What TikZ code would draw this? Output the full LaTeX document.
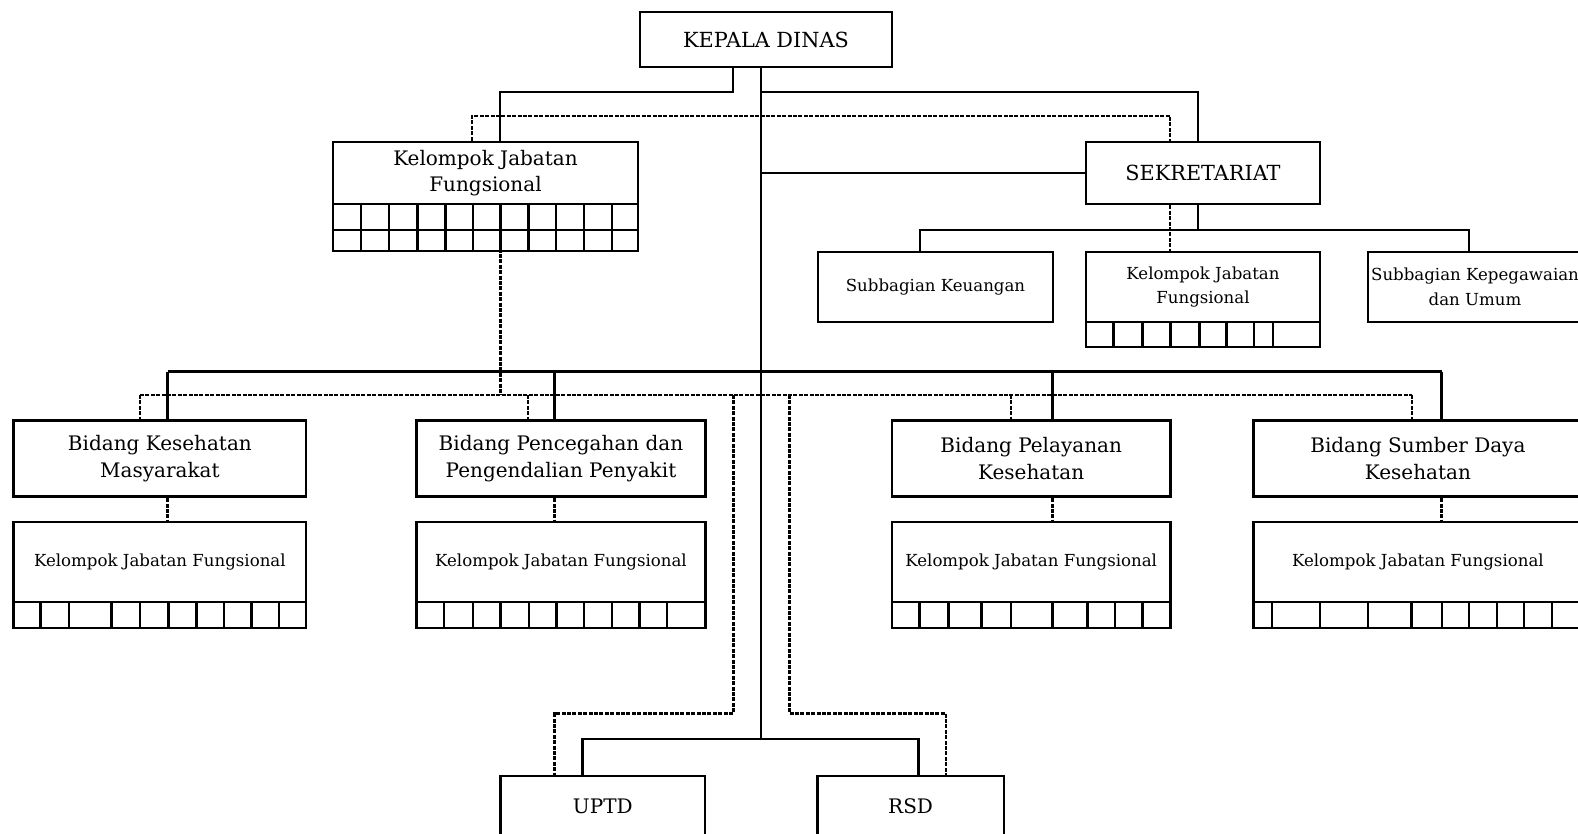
\documentclass[tikz,border=0pt]{standalone}
\usepackage{fontspec}
\setmainfont{DejaVu Serif}

\tikzset{
  unitbox/.style={draw, line width=1.4pt, inner sep=0pt, align=center, font=\fontsize{10}{13.3}\selectfont},
  headbox/.style={unitbox, font=\fontsize{10.4}{13.3}\selectfont},
  smallbox/.style={unitbox, font=\fontsize{8.3}{12.2}\selectfont},
  dotline/.style={line width=1.2pt, dash pattern=on 2pt off 0.7pt}
}

\begin{document}
\begin{tikzpicture}[x=0.5pt, y=-0.5pt, line width=1.4pt]

\useasboundingbox (0, 0) rectangle (1578, 834);
\clip (0, 0) rectangle (1578, 834);

\draw (766, 39.5) node[headbox, minimum width=126pt, minimum height=27.5pt] (kd) {KEPALA DINAS};

\draw (485.5, 173) node[unitbox, minimum width=152.5pt, minimum height=31pt] (kjf0) {Kelompok Jabatan\\Fungsional};

\draw (1203, 173) node[headbox, minimum width=117pt, minimum height=31pt] (sek) {SEKRETARIAT};

\draw (935.5, 287) node[smallbox, minimum width=117.5pt, minimum height=35pt] (sk) {Subbagian Keuangan};

\draw (1203, 287) node[smallbox, minimum width=117pt, minimum height=35pt] (kjfs) {Kelompok Jabatan\\Fungsional};

\draw (1475, 287) node[smallbox, minimum width=107pt, minimum height=35pt] (skp) {Subbagian Kepegawaian\\dan Umum};

\draw (159.9, 458.7) node[unitbox, minimum width=146.1pt, minimum height=38pt] (bkm) {Bidang Kesehatan\\Masyarakat};

\draw (561, 458.7) node[unitbox, minimum width=144.65pt, minimum height=38pt] (bppp) {Bidang Pencegahan dan\\Pengendalian Penyakit};

\draw (1031.2, 458.7) node[unitbox, minimum width=139.2pt, minimum height=38pt] (bpk) {Bidang Pelayanan\\Kesehatan};

\draw (1417.9, 458.7) node[unitbox, minimum width=164.1pt, minimum height=38pt] (bsdk) {Bidang Sumber Daya\\Kesehatan};

\draw (159.9, 562) node[smallbox, minimum width=146.1pt, minimum height=40pt] (k1) {Kelompok Jabatan Fungsional};

\draw (561, 562) node[smallbox, minimum width=144.65pt, minimum height=40pt] (k2) {Kelompok Jabatan Fungsional};

\draw (1031.2, 562) node[smallbox, minimum width=139.2pt, minimum height=40pt] (k3) {Kelompok Jabatan Fungsional};

\draw (1417.9, 562) node[smallbox, minimum width=164.1pt, minimum height=40pt] (k4) {Kelompok Jabatan Fungsional};

\draw (602.8, 806) node[unitbox, minimum width=102.2pt, minimum height=30pt] (uptd) {UPTD};

\draw (910.6, 806) node[unitbox, minimum width=93.35pt, minimum height=30pt] (rsd) {RSD};

\draw (333, 204) rectangle (638, 251);
\draw (333, 230) -- (638, 230);
\foreach \x in {361, 389, 417.6, 445.5, 473, 500.6, 528.6, 556, 584, 612}
  \draw (\x, 204) -- (\x, 251);

\draw (1086, 322) rectangle (1320, 347);
\foreach \x in {1113.6, 1142.4, 1170.6, 1199.4, 1226.7, 1254, 1272.9}
  \draw (\x, 322) -- (\x, 347);

\draw (13.8, 602) rectangle (306, 628);
\foreach \x in {40.4, 68.9, 111.6, 140, 168.5, 196.5, 224, 251.6, 279}
  \draw (\x, 602) -- (\x, 628);

\draw (416.4, 602) rectangle (705.7, 628);
\foreach \x in {444, 473, 500.5, 529, 556.5, 584, 612, 639.6, 667}
  \draw (\x, 602) -- (\x, 628);

\draw (892, 602) rectangle (1170.4, 628);
\foreach \x in {919.5, 948.4, 981.3, 1011, 1052.3, 1087.6, 1115, 1142.5}
  \draw (\x, 602) -- (\x, 628);

\draw (1253.8, 602) rectangle (1582, 628);
\foreach \x in {1272, 1320, 1368, 1411.7, 1442, 1469, 1497, 1524, 1552}
  \draw (\x, 602) -- (\x, 628);

\coordinate (tr) at (761, 739);
\coordinate (la) at (733, 92);
\coordinate (lb) at (500, 92);
\coordinate (ra) at (1198, 92);
\coordinate (da) at (472, 116);
\coordinate (db) at (1170, 116);
\coordinate (sb) at (1198, 230);
\coordinate (sbl) at (920, 230);
\coordinate (sbr) at (1469, 230);
\coordinate (dk) at (500.5, 395);

\draw (kd.south -| la) -- (la) -- (lb) -- (lb |- kjf0.north);

\draw (kd.south -| tr) -- (tr);

\draw (tr |- ra) -- (ra) -- (ra |- sek.north);

\draw[dotline] (da |- kjf0.north) -- (da) -- (db) -- (db |- sek.north);

\draw (tr |- sek.west) -- (sek.west);

\draw (sek.south -| sb) -- (sb);

\draw (sbl |- sk.north) -- (sbl) -- (sbr) -- (sbr |- skp.north);

\draw[dotline] (sek.south -| db) -- (db |- kjfs.north);

\draw[dotline] (kjf0.south -| dk) -- (dk);

\coordinate (b1) at (167.6, 371.7);
\coordinate (b2) at (554.6, 371.7);
\coordinate (b3) at (1052.3, 371.7);
\coordinate (b4) at (1441.5, 371.7);

\draw (b1) -- (b4);
\foreach \n/\m/\c in {bkm/k1/b1, bppp/k2/b2, bpk/k3/b3, bsdk/k4/b4}
{
  \draw (\c) -- (\c |- \n.north);
  \draw[dotline] (\n.south -| \c) -- (\m.north -| \c);
}

\coordinate (d1) at (140, 395);
\coordinate (d2) at (528, 395);
\coordinate (d3) at (733.3, 395);
\coordinate (d4) at (789.3, 395);
\coordinate (d5) at (1011, 395);
\coordinate (d6) at (1411.7, 395);

\draw[dotline] (d1) -- (d6);
\foreach \n/\c in {bkm/d1, bppp/d2, bpk/d5, bsdk/d6}
  \draw[dotline] (\c) -- (\c |- \n.north);

\coordinate (u1) at (733.3, 713.3);
\coordinate (u2) at (554.6, 713.3);
\coordinate (r1) at (789.3, 713.3);
\coordinate (r2) at (946, 713.3);
\coordinate (tb1) at (582.8, 739);
\coordinate (tb2) at (918.8, 739);

\draw[dotline] (d3) -- (u1) -- (u2) -- (u2 |- uptd.north);

\draw[dotline] (d4) -- (r1) -- (r2) -- (r2 |- rsd.north);

\draw (tb1 |- uptd.north) -- (tb1) -- (tb2) -- (tb2 |- rsd.north);

\end{tikzpicture}
\end{document}
